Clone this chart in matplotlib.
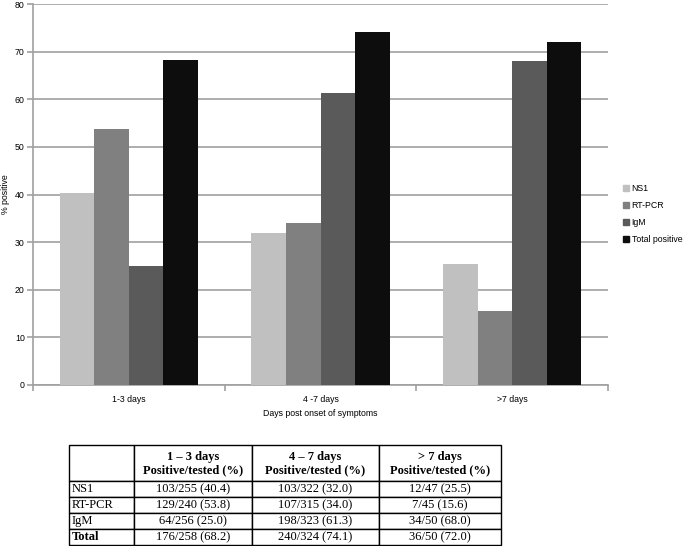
import numpy as np
import matplotlib
matplotlib.use('Agg')
import matplotlib.pyplot as plt
from matplotlib.patches import Patch

plt.rcParams['font.family'] = 'Liberation Sans'

groups = ['1-3 days', '4 -7 days', '>7 days']
series = ['NS1', 'RT-PCR', 'IgM', 'Total positive']
ns1 = [40.4, 32.0, 25.5]
rtpcr = [53.8, 34.0, 15.6]
igm = [25.0, 61.3, 68.0]
total = [68.2, 74.1, 72.0]
colors = ['#c0c0c0', '#808080', '#5a5a5a', '#0d0d0d']

tab_cols = ['1 \u2013 3 days\nPositive/tested (%)',
            '4 \u2013 7 days\nPositive/tested (%)',
            '> 7 days\nPositive/tested (%)']
tab_rows = ['NS1', 'RT-PCR', 'IgM', 'Total']
tab_cells = [['103/255 (40.4)', '103/322 (32.0)', '12/47 (25.5)'],
             ['129/240 (53.8)', '107/315 (34.0)', '7/45 (15.6)'],
             ['64/256 (25.0)', '198/323 (61.3)', '34/50 (68.0)'],
             ['176/258 (68.2)', '240/324 (74.1)', '36/50 (72.0)']]

fig = plt.figure(figsize=(6.85, 5.46), dpi=100)
ax = fig.add_axes([33/685, 1-385/546, (608-33)/685, (385-4)/546])

x = np.arange(len(groups))
w = 0.18
vals = [ns1, rtpcr, igm, total]
for i in range(4):
    ax.bar(x + (i-1.5)*w, vals[i], w, color=colors[i], zorder=3, label=series[i])

ax.set_xlim(-0.5, 2.5)
ax.set_ylim(0, 80)
ax.set_yticks(range(0, 81, 10))
ax.yaxis.grid(True, color='#a0a0a0', linewidth=1.2, zorder=0)
ax.set_xticks(x)
ax.set_xticklabels(groups, fontsize=6.3)
ax.set_xticks([-0.5, 0.5, 1.5, 2.5], minor=True)
ax.tick_params(axis='x', which='major', length=0, pad=7)
ax.tick_params(axis='x', which='minor', length=4, color='#a0a0a0', width=1.2)
ax.tick_params(axis='y', labelsize=6.3, length=4, color='#a0a0a0', width=1.2, pad=2)
for s in ['top', 'right']:
    ax.spines[s].set_visible(False)
for s in ['left', 'bottom']:
    ax.spines[s].set_color('#a0a0a0')
    ax.spines[s].set_linewidth(1.2)
ax.set_xlabel('Days post onset of symptoms', fontsize=6.3, labelpad=4)
ax.set_ylabel('% positive', fontsize=6.3)
ax.yaxis.set_label_coords(-23/575, 0.5)

handles = [Patch(color=colors[i], label=series[i]) for i in range(4)]
fig.legend(handles=handles, loc='center left', bbox_to_anchor=(615/685, 1-214/546),
           frameon=False, fontsize=6.3, handlelength=0.7, handleheight=0.7,
           handletextpad=0.3, labelspacing=0.9)

# table
tax = fig.add_axes([69/685, 0.001, (501-69)/685, (546-446)/546])
tax.axis('off')
cell_text = [[''] + tab_cols] + [[tab_rows[i]] + tab_cells[i] for i in range(4)]
tbl = tax.table(cellText=cell_text, cellLoc='center', bbox=[0, 0, 1, 1],
                colWidths=[65, 118, 127, 122])
tbl.auto_set_font_size(False)
for (r, c), cell in tbl.get_celld().items():
    cell.set_linewidth(1.0)
    cell.set_height(2.25 if r == 0 else 1.0)
    t = cell.get_text()
    t.set_fontfamily('Liberation Serif')
    t.set_fontsize(9)
    if c == 0:
        t.set_horizontalalignment('left')
        cell.PAD = 0.04
    if r == 0 or (r == 4 and c == 0):
        t.set_fontweight('bold')

fig.savefig('out.png', dpi=100)
